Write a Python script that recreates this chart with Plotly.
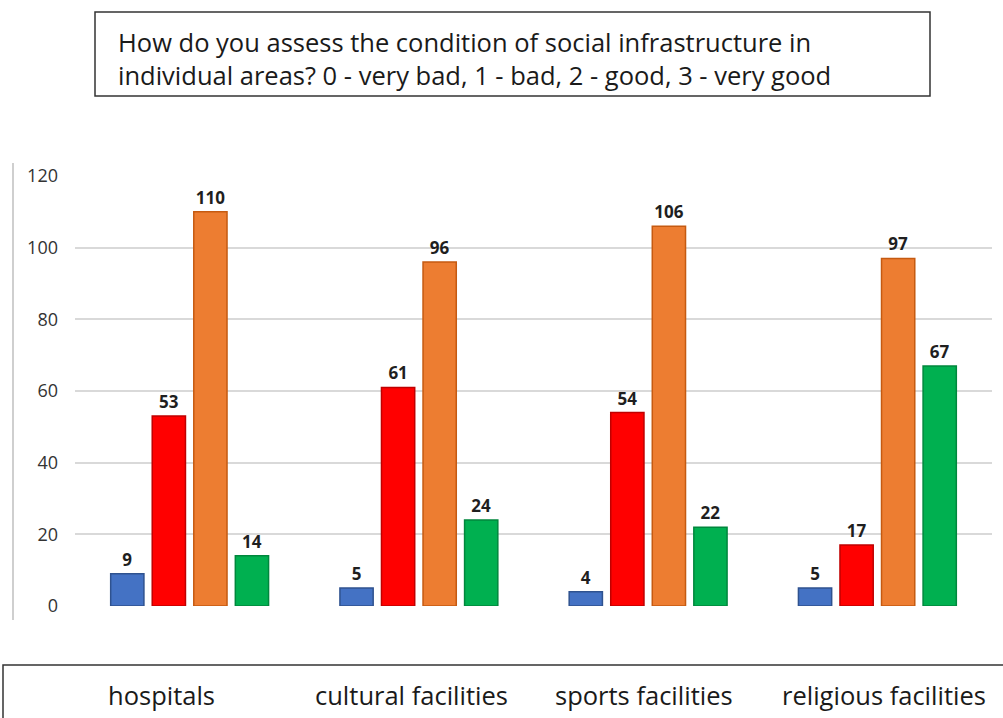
import plotly.graph_objects as go

categories = ["hospitals", "cultural facilities", "sports facilities", "religious facilities"]
series_names = ["0 - very bad", "1 - bad", "2 - good", "3 - very good"]
very_bad = [9, 5, 4, 5]
bad = [53, 61, 54, 17]
good = [110, 96, 106, 97]
very_good = [14, 24, 22, 67]
y_ticks = [0, 20, 40, 60, 80, 100, 120]

fills = ["#4472C4", "#FF0000", "#ED7D31", "#00B050"]
edges = ["#2F528F", "#C00000", "#C55A11", "#00873D"]

W, H = 1003, 718
L, R, T, B = 75, 992, 176, 606  # plot area in pixels
TEXT_FONT = "Open Sans"
LABEL_CENTERS = [161, 411, 644, 884]  # pixel centres of the category captions


def px(x):
    return (x - L) / (R - L)


def py(y):
    return (B - y) / (B - T)


fig = go.Figure()
for name, vals, fc, ec in zip(series_names, [very_bad, bad, good, very_good], fills, edges):
    fig.add_trace(go.Bar(
        name=name, x=categories, y=vals,
        marker=dict(color=fc, line=dict(color=ec, width=1.5)),
        text=[str(v) for v in vals], textposition="outside",
        textfont=dict(family="Open Sans", size=17, color="#1f1f1f", weight="bold"),
        cliponaxis=False,
    ))

fig.update_layout(
    width=W, height=H,
    margin=dict(l=L, r=W - R, t=T, b=H - B),
    paper_bgcolor="white", plot_bgcolor="white",
    barmode="group", bargap=0.275, bargroupgap=0.2,
    showlegend=False,
    font=dict(family=TEXT_FONT, color="#404040"),
    xaxis=dict(showticklabels=False, showgrid=False, zeroline=False, showline=False, ticks=""),
    yaxis=dict(range=[0, 120], tickvals=y_ticks, showgrid=True, gridcolor="#D9D9D9",
               gridwidth=1.5, zeroline=False, showline=False,
               tickfont=dict(family="Open Sans", size=18, color="#333333"),
               ticklabelstandoff=16),
)

# question box at the top
fig.add_shape(type="rect", xref="paper", yref="paper",
              x0=px(95), x1=px(930), y0=py(96), y1=py(12),
              line=dict(color="#333333", width=1.5), fillcolor="rgba(0,0,0,0)")
question = ["How do you assess the condition of social infrastructure in",
            "individual areas? 0 - very bad, 1 - bad, 2 - good, 3 - very good"]
for line, cy in zip(question, [42, 75]):
    fig.add_annotation(text=line, xref="paper", yref="paper", x=px(116), y=py(cy),
                       xanchor="left", yanchor="middle", showarrow=False,
                       font=dict(family=TEXT_FONT, size=25.5, color="#1a1a1a"))

# vertical rule at the left of the chart
fig.add_shape(type="line", xref="paper", yref="paper",
              x0=px(13), x1=px(13), y0=py(620), y1=py(163),
              line=dict(color="#BFBFBF", width=1.5))

# category box at the bottom
fig.add_shape(type="rect", xref="paper", yref="paper",
              x0=px(3), x1=px(1010), y0=py(730), y1=py(665),
              line=dict(color="#333333", width=1.5), fillcolor="rgba(0,0,0,0)")
for cat, cx in zip(categories, LABEL_CENTERS):
    fig.add_annotation(text=cat, xref="paper", yref="paper", x=px(cx), y=py(695),
                       xanchor="center", yanchor="middle", showarrow=False,
                       font=dict(family=TEXT_FONT, size=25.5, color="#1a1a1a"))

fig.write_html("out.html")
